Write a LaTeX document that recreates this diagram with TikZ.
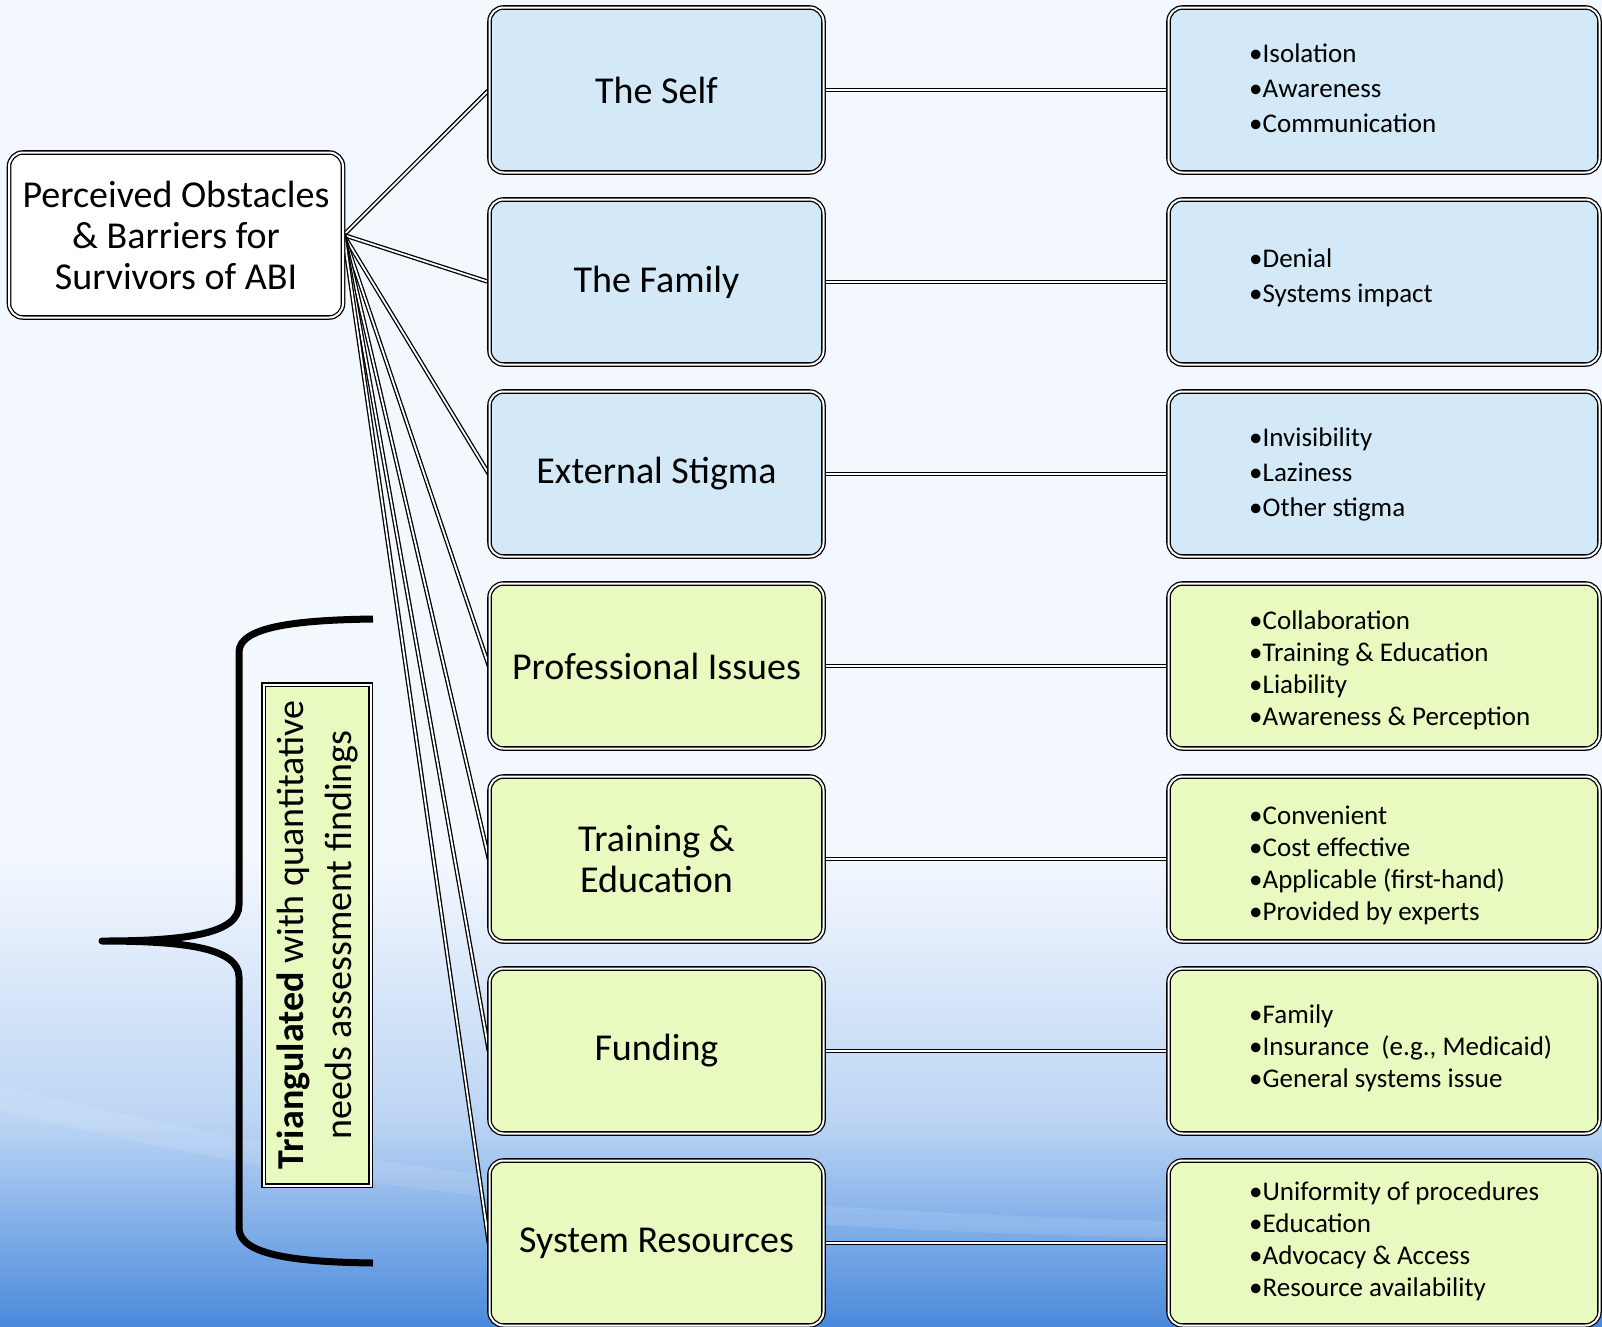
\documentclass[tikz,border=0pt]{standalone}
\usepackage{fontspec}
\setmainfont{Carlito}
\usetikzlibrary{calc}
\definecolor{bgtop}{HTML}{F3F7FE}
\definecolor{bgmid}{HTML}{BCD5F4}
\definecolor{bgbot}{HTML}{4A8ADC}
\definecolor{boxblue}{HTML}{D3E9F7}
\definecolor{boxgreen}{HTML}{E8FAC0}
\newcommand\midfont{\fontsize{38}{41}\selectfont}
\newcommand\listfontA{\fontsize{27}{35}\selectfont}
\newcommand\listfontB{\fontsize{27}{32}\selectfont}
\newcommand\trifont{\fontsize{38}{48}\selectfont}
\pgfdeclarelayer{bg}
\pgfdeclarelayer{lines}
\pgfsetlayers{bg,lines,main}
\tikzset{
  dbl/.style={draw=black, line width=1.3pt, double=white, double distance=2pt},
  conn/.style={draw=black, line width=1.3pt, double=white, double distance=1.8pt},
  midbox/.style={dbl, rounded corners=14pt, minimum width=334pt, minimum height=165pt,
     align=center, inner sep=0pt, font=\midfont},
  rootbox/.style={midbox, fill=white},
  bluebox/.style={midbox, fill=boxblue},
  greenbox/.style={midbox, fill=boxgreen},
  listbox/.style={dbl, rounded corners=14pt, minimum width=431pt, minimum height=165pt, inner sep=0pt},
  listtext/.style={anchor=west, align=left, inner sep=0pt},
  tribox/.style={dbl, fill=boxgreen, minimum width=107pt, minimum height=501pt, inner sep=0pt},
  brace/.style={draw=black, line width=7pt, line join=round, line cap=butt}
}
\begin{document}
\begin{tikzpicture}[x=1pt,y=-1pt]
\useasboundingbox (0,0) rectangle (1602,1326);
\clip (0,0) rectangle (1602,1326);
\begin{pgfonlayer}{bg}
  \fill[bgtop] (0,0) rectangle (1602,1326);
  \shade[top color=bgtop, bottom color=bgmid] (0,860) rectangle (1602,1120);
  \shade[top color=bgmid, bottom color=bgbot] (0,1120) rectangle (1602,1326);
  \fill[white, opacity=0.10] (0,1085) .. controls (300,1160) and (700,1230) .. (1602,1225)
      -- (1602,1240) .. controls (700,1248) and (300,1185) .. (0,1110) -- cycle;
\end{pgfonlayer}

% root
\node[rootbox] (root) at (176,235) {Perceived Obstacles\\\& Barriers for\\Survivors of ABI};

% middle column
\node[bluebox]  (self)  at (656.5,90)   {The Self};
\node[bluebox]  (fam)   at (656.5,282)  {The Family};
\node[bluebox]  (stig)  at (656.5,474)  {External Stigma};
\node[greenbox] (prof)  at (656.5,666)  {Professional Issues};
\node[greenbox] (train) at (656.5,859)  {Training \&\\Education};
\node[greenbox] (fund)  at (656.5,1051) {Funding};
\node[greenbox] (sys)   at (656.5,1243) {System Resources};

% right column boxes
\node[listbox, fill=boxblue]  (rself)  at (1384,90)   {};
\node[listbox, fill=boxblue]  (rfam)   at (1384,282)  {};
\node[listbox, fill=boxblue]  (rstig)  at (1384,474)  {};
\node[listbox, fill=boxgreen] (rprof)  at (1384,666)  {};
\node[listbox, fill=boxgreen] (rtrain) at (1384,859)  {};
\node[listbox, fill=boxgreen] (rfund)  at (1384,1051) {};
\node[listbox, fill=boxgreen] (rsys)   at (1384,1243) {};

% right column texts
\node[listtext, font=\listfontA] (tself) at (1249,88)
  {•Isolation\\•Awareness\\•Communication};
\node[listtext, font=\listfontA] (tfam) at (1249,278)
  {•Denial\\•Systems impact};
\node[listtext, font=\listfontA] (tstig) at (1249,474)
  {•Invisibility\\•Laziness\\•Other stigma};
\node[listtext, font=\listfontB] (tprof) at (1249,670)
  {•Collaboration\\•Training \& Education\\•Liability\\•Awareness \& Perception};
\node[listtext, font=\listfontB] (ttrain) at (1249,865)
  {•Convenient\\•Cost effective\\•Applicable (first-hand)\\•Provided by experts};
\node[listtext, font=\listfontB] (tfund) at (1249,1048)
  {•Family\\•Insurance\ \ (e.g., Medicaid)\\•General systems issue};
\node[listtext, font=\listfontB] (tsys) at (1249,1241)
  {•Uniformity of procedures\\•Education\\•Advocacy \& Access\\•Resource availability};

% connectors
\begin{pgfonlayer}{lines}
  \foreach \m in {self,fam,stig,prof,train,fund,sys}{
    \draw[conn] (root.east) -- (\m.west);
  }
  \foreach \m/\r in {self/rself,fam/rfam,stig/rstig,prof/rprof,train/rtrain,fund/rfund,sys/rsys}{
    \draw[conn] (\m.east) -- (\r.west);
  }
\end{pgfonlayer}

% brace and triangulated box
\draw[brace] (373,619) .. controls (300,620) and (239,626) .. (239,652)
   -- (239,905) .. controls (239,934) and (185,941) .. (102,941)
   .. controls (185,941) and (239,948) .. (239,977)
   -- (239,1228) .. controls (239,1256) and (300,1262) .. (373,1263);
\node[tribox] (tri) at (317,935) {};
\node[rotate=90, align=center, font=\trifont, inner sep=0pt] (tritext) at (tri.center)
  {\textbf{Triangulated} with quantitative\\needs assessment findings};
\end{tikzpicture}
\end{document}
